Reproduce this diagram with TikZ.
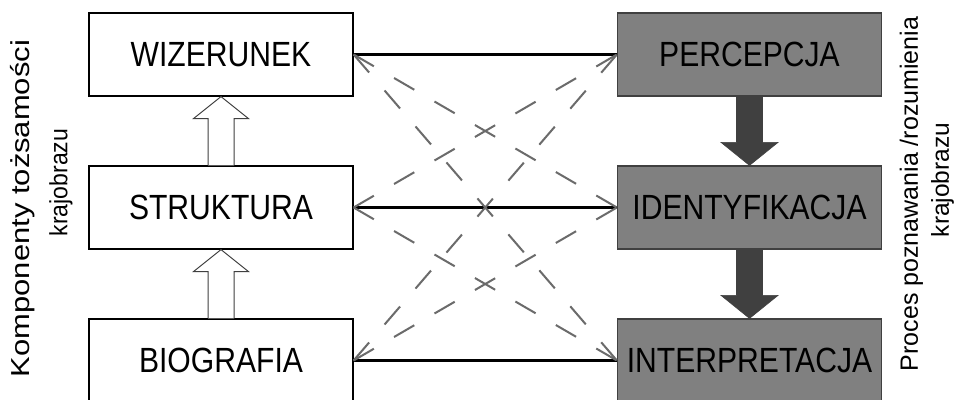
\documentclass[tikz,border=0pt]{standalone}
\usepackage{fontspec}
\setmainfont{Liberation Sans}
\usetikzlibrary{calc}
\definecolor{boxgray}{gray}{0.5}
\definecolor{darkarr}{gray}{0.25}
\definecolor{dashgray}{gray}{0.42}
\begin{document}
\begin{tikzpicture}[x=1pt,y=-1pt,
  lbox/.style={draw=black, line width=1.2pt, fill=white, minimum width=264pt, minimum height=83pt, inner sep=0pt, font=\fontsize{35}{35}\selectfont},
  rbox/.style={lbox, draw=darkarr, fill=boxgray},
  link/.style={line width=2.6pt, draw=black},
  shortdash/.style={draw=dashgray, line width=2pt, dash pattern=on 23.39pt off 23.39pt},
  longdash/.style={draw=dashgray, line width=2pt, dash pattern=on 23.73pt off 23.73pt},
  hollowarr/.style={draw=darkarr, line width=1pt, fill=white},
  solidarr/.style={draw=darkarr, line width=0.6pt, fill=darkarr},
  side/.style={rotate=90, inner sep=0pt}]
\clip (0,0) rectangle (960,399);
\fill[white] (0,0) rectangle (960,399);
% boxes
\node[lbox] (wiz) at (221,54.5) {\scalebox{0.86}[1]{WIZERUNEK}};
\node[lbox] (str) at (221,207.5) {\scalebox{0.86}[1]{STRUKTURA}};
\node[lbox] (bio) at (221,360.5) {\scalebox{0.86}[1]{BIOGRAFIA}};
\node[rbox] (per) at (749.5,54.5) {\scalebox{0.86}[1]{PERCEPCJA}};
\node[rbox] (ide) at (749.5,207.5) {\scalebox{0.86}[1]{IDENTYFIKACJA}};
\node[rbox] (int) at (749.5,360.5) {\scalebox{0.86}[1]{INTERPRETACJA}};
% side labels
\node[side, font=\fontsize{26}{26}\selectfont] (lab1) at (22.5,208.5) {\scalebox{1.19}[1]{Komponenty tożsamości}};
\node[side, font=\fontsize{25}{25}\selectfont] (lab2) at (61,182.5) {\scalebox{0.92}[1]{krajobrazu}};
\node[side, font=\fontsize{25}{25}\selectfont] (lab3) at (911.5,194) {Proces poznawania /rozumienia};
\node[side, font=\fontsize{24.5}{24.5}\selectfont] (lab4) at (942.5,180) {krajobrazu};
% block arrows (left, hollow, upward)
\foreach \a/\b in {wiz/str, str/bio} {
  \draw[hollowarr] ($(\b.north)+(-13,0)$) -- ($(\a.south)+(-13,22)$) -- ($(\a.south)+(-27.5,22)$) -- (\a.south) -- ($(\a.south)+(27.5,22)$) -- ($(\a.south)+(13,22)$) -- ($(\b.north)+(13,0)$);
}
% block arrows (right, dark, downward)
\foreach \a/\b in {per/ide, ide/int} {
  \draw[solidarr] ($(\a.south)+(-13,0)$) -- ($(\b.north)+(-13,-23)$) -- ($(\b.north)+(-28.5,-23)$) -- (\b.north) -- ($(\b.north)+(28.5,-23)$) -- ($(\b.north)+(13,-23)$) -- ($(\a.south)+(13,0)$) -- cycle;
}
% solid links
\draw[link] (wiz.east) -- (per.west);
\draw[link] (str.east) -- (ide.west);
\draw[link] (bio.east) -- (int.west);
% dashed links
\draw[shortdash] (wiz.east) -- (ide.west);
\draw[longdash]  (wiz.east) -- (int.west);
\draw[shortdash] (str.east) -- (per.west);
\draw[shortdash] (str.east) -- (int.west);
\draw[longdash]  (bio.east) -- (per.west);
\draw[shortdash] (bio.east) -- (ide.west);
\end{tikzpicture}
\end{document}
